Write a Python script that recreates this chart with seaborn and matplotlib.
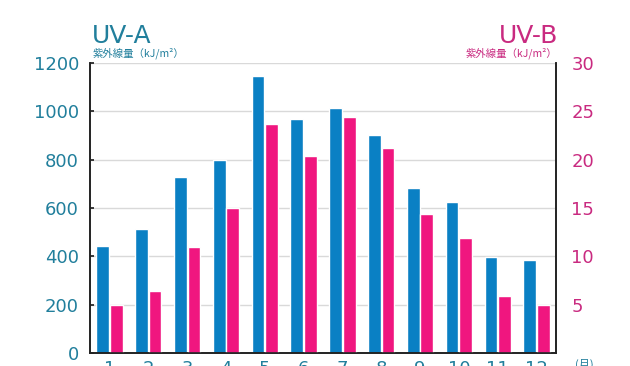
import numpy as np
import matplotlib
matplotlib.use("Agg")
import matplotlib.pyplot as plt
import pandas as pd
import seaborn as sns

months = ["1", "2", "3", "4", "5", "6", "7", "8", "9", "10", "11", "12"]
uva = [443, 513, 728, 798, 1146, 970, 1012, 902, 683, 625, 397, 385]
uvb = [5.0, 6.4, 11.0, 15.0, 23.7, 20.4, 24.4, 21.2, 14.4, 11.9, 5.9, 5.0]
uva_ticks = [0, 200, 400, 600, 800, 1000, 1200]
uvb_ticks = [5, 10, 15, 20, 25, 30]

blue = "#0a80c4"
pink = "#f0167f"
teal_txt = "#217f9c"
pink_txt = "#c92a80"

sns.set_theme(style="white")
plt.rcParams["font.family"] = ["DejaVu Sans", "Noto Sans CJK JP"]

# long table; each series drawn on its own axis, NaN keeps the dodge slot
df = pd.DataFrame({
    "month": months * 2,
    "series": ["UV-A"] * 12 + ["UV-B"] * 12,
    "a": uva + [np.nan] * 12,
    "b": [np.nan] * 12 + uvb,
})
hue_order = ["UV-A", "UV-B"]
pal = {"UV-A": blue, "UV-B": pink}

fig = plt.figure(figsize=(6.3, 3.66), dpi=100)
ax = fig.add_axes([0.1429, 0.0355, 0.7396, 0.7924])
ax2 = ax.twinx()

sns.barplot(data=df, x="month", y="a", hue="series", hue_order=hue_order,
            palette=pal, width=0.7, gap=0.06, saturation=1, legend=False,
            ax=ax, order=months)
sns.barplot(data=df, x="month", y="b", hue="series", hue_order=hue_order,
            palette=pal, width=0.7, gap=0.06, saturation=1, legend=False,
            ax=ax2, order=months)

ax.set_xlim(-0.5, 11.5)
ax.set_ylim(0, 1200)
ax2.set_ylim(0, 30)
ax.set_yticks(uva_ticks)
ax2.set_yticks(uvb_ticks)
ax.set_xlabel("")
ax.set_ylabel("")
ax2.set_ylabel("")

ax.yaxis.grid(True, color="#d9d9d9", linewidth=1)
ax.set_axisbelow(True)
ax2.grid(False)

for a in (ax, ax2):
    a.spines["top"].set_visible(False)
    for s in ("left", "right", "bottom"):
        a.spines[s].set_color("#222222")
        a.spines[s].set_linewidth(1.2)

ax.tick_params(axis="y", direction="in", length=3, color="#222222",
               labelsize=13, labelcolor=teal_txt, pad=8)
ax.tick_params(axis="x", length=0, labelsize=13, labelcolor=teal_txt, pad=5)
ax2.tick_params(axis="y", length=0, labelsize=13, labelcolor=pink_txt, pad=11)

sub_font = ["Noto Sans CJK JP", "DejaVu Sans"]
fig.text(0.146, 0.882, "UV-A", fontsize=18, color=teal_txt, ha="left",
         va="baseline")
fig.text(0.147, 0.846, "紫外線量（kJ/m²）", fontsize=7.5, color=teal_txt,
         ha="left", va="baseline", family=sub_font)
fig.text(0.886, 0.882, "UV-B", fontsize=18, color=pink_txt, ha="right",
         va="baseline")
fig.text(0.884, 0.846, "紫外線量（kJ/m²）", fontsize=7.5, color=pink_txt,
         ha="right", va="baseline", family=sub_font)
fig.text(0.912, -0.005, "(月)", fontsize=8, color=teal_txt, ha="left",
         va="baseline", family=sub_font)

fig.savefig("out.png", dpi=100)
